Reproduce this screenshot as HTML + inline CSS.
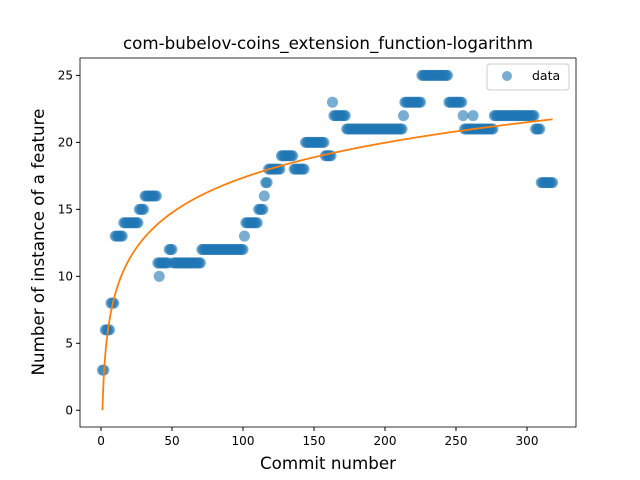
<!DOCTYPE html>
<html><head><meta charset="utf-8"><style>body{margin:0;background:#fff}svg{display:block;font-family:"DejaVu Sans","Liberation Sans",sans-serif}</style></head>
<body>
<svg id="chart" width="640" height="480" xmlns="http://www.w3.org/2000/svg">
<rect width="640" height="480" fill="#fff"/>
<text x="328" y="49" text-anchor="middle" font-size="16.7">com-bubelov-coins_extension_function-logarithm</text>
<g id="pts"></g>
<g id="fit"></g>
<rect x="80" y="58" width="496" height="369" fill="none" stroke="#000" stroke-width="0.8"/>
<g id="xt"></g>
<g id="yt"></g>
<text x="328" y="469" text-anchor="middle" font-size="16.7">Commit number</text>
<text transform="translate(44,242) rotate(-90)" text-anchor="middle" font-size="16.7">Number of instance of a feature</text>
<g>
<rect x="487" y="64" width="82" height="26" rx="3" fill="#fff" fill-opacity="0.8" stroke="#ccc"/>
<circle cx="507" cy="76" r="5" fill="#1f77b4" fill-opacity="0.6"/>
<text x="532" y="80" font-size="12.5">data</text>
</g>
</svg>
<script>
const segStart = [1,3,7,10,16,27,31,40,41,48,51,71,101,102,111,115,116,118,127,136,144,158,163,164,173,213,214,226,245,255,256,262,277,306,310];
const segEnd   = [2,6,9,15,26,30,39,47,41,50,70,100,101,110,114,115,117,126,135,143,157,162,163,172,212,213,225,244,254,255,276,262,305,309,318];
const segValue = [3,6,8,13,14,15,16,11,10,12,11,12,13,14,15,16,17,18,19,18,20,19,23,22,21,22,23,25,23,22,21,22,22,21,17];
const fitA = [3.77];
const fitB = [0];
const xTicks = [0,50,100,150,200,250,300];
const yTicks = [0,5,10,15,20,25];
const NS="http://www.w3.org/2000/svg";
const X0=80,X1=576,Y0=58,Y1=427,xmin=-14.8,xmax=334.5,ymin=-1.25,ymax=26.3;
function sx(v){return X0+(v-xmin)/(xmax-xmin)*(X1-X0);}
function sy(v){return Y1-(v-ymin)/(ymax-ymin)*(Y1-Y0);}
const pts=document.getElementById('pts');
for(let i=0;i<segStart.length;i++){
  for(let x=segStart[i];x<=segEnd[i];x++){
    const c=document.createElementNS(NS,'circle');
    
    
    c.setAttribute('cx',sx(x));c.setAttribute('cy',sy(segValue[i]));c.setAttribute('r',5.5);
    c.setAttribute('fill','#1f77b4');c.setAttribute('fill-opacity','0.6');
    pts.appendChild(c);
  }
}
let d='';
for(let x=1;x<=318;x+=0.5){const y=fitA[0]*Math.log(x)+fitB[0];d+=(d?'L':'M')+sx(x).toFixed(2)+','+sy(y).toFixed(2);}
const p=document.createElementNS(NS,'path');


p.setAttribute('d',d);p.setAttribute('fill','none');p.setAttribute('stroke','#ff7f0e');p.setAttribute('stroke-width','1.8');
document.getElementById('fit').appendChild(p);
const xt=document.getElementById('xt');
xTicks.forEach(v=>{
  const l=document.createElementNS(NS,'line');
  
  
  l.setAttribute('x1',sx(v));l.setAttribute('x2',sx(v));l.setAttribute('y1',Y1);l.setAttribute('y2',Y1+4);l.setAttribute('stroke','#000');
  xt.appendChild(l);
  const t=document.createElementNS(NS,'text');
  
  
  t.setAttribute('x',sx(v));t.setAttribute('y',Y1+18);t.setAttribute('text-anchor','middle');t.setAttribute('font-size','12');
  t.textContent=v;xt.appendChild(t);
});
const yt=document.getElementById('yt');
yTicks.forEach(v=>{
  const l=document.createElementNS(NS,'line');
  
  
  l.setAttribute('x1',X0-4);l.setAttribute('x2',X0);l.setAttribute('y1',sy(v));l.setAttribute('y2',sy(v));l.setAttribute('stroke','#000');
  yt.appendChild(l);
  const t=document.createElementNS(NS,'text');
  
  
  t.setAttribute('x',X0-7);t.setAttribute('y',sy(v)+4);t.setAttribute('text-anchor','end');t.setAttribute('font-size','12');
  t.textContent=v;yt.appendChild(t);
});
</script>
</body></html>
